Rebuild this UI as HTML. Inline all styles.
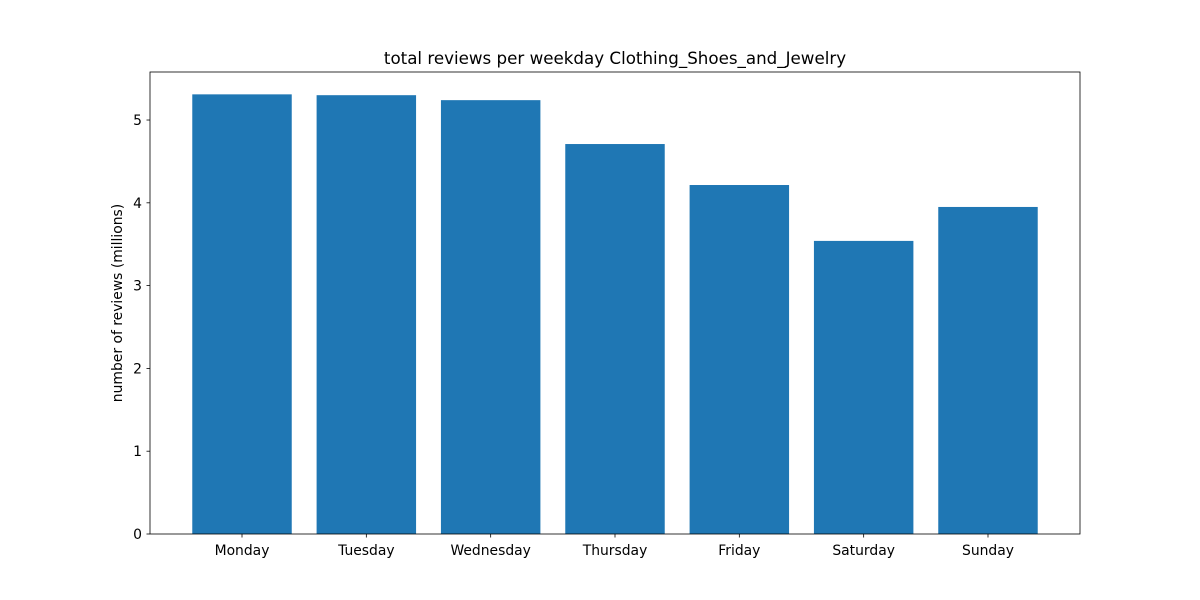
<!DOCTYPE html>
<html><head><meta charset="utf-8"><style>
body{margin:0;background:#fff;}
svg{display:block;font-family:"DejaVu Sans","Liberation Sans",sans-serif;}
</style></head><body>
<svg id="chart" width="1200" height="600"></svg>
<script>
const categories=["Monday","Tuesday","Wednesday","Thursday","Friday","Saturday","Sunday"];
const values=[5.31,5.30,5.24,4.71,4.215,3.54,3.95];
const yTicks=[0,1,2,3,4,5];
const L=150,R=1080,T=72,B=534,yMax=5.58;
const xMin=-0.74,xMax=6.74;
const sx=v=>L+(v-xMin)/(xMax-xMin)*(R-L);
const sy=v=>B-v/yMax*(B-T);
const NS="http://www.w3.org/2000/svg";
const svg=document.getElementById('chart');
function mk(tag,attrs,text){const e=document.createElementNS(NS,tag);for(const k in attrs)e.setAttribute(k,attrs[k]);if(text!==undefined)e.textContent=text;svg.appendChild(e);return e;}
categories.forEach((c,i)=>{
  const x0=sx(i-0.4),x1=sx(i+0.4);
  const r=mk('rect',{x:x0,y:sy(values[i]),width:x1-x0,height:B-sy(values[i]),fill:'#1f77b4'});
  
  
  const tk=mk('line',{x1:sx(i),x2:sx(i),y1:B,y2:B+3.5,stroke:'#000','stroke-width':0.8});
  
  
  const t=mk('text',{x:sx(i),y:B+21,'text-anchor':'middle','font-size':13.9},c);
  
  
});
yTicks.forEach(v=>{
  const tk=mk('line',{x1:L-3.5,x2:L,y1:sy(v),y2:sy(v),stroke:'#000','stroke-width':0.8});
  
  
  const t=mk('text',{x:L-8,y:sy(v)+5,'text-anchor':'end','font-size':13.9},v);
  
  
});
const fr=mk('rect',{x:L,y:T,width:R-L,height:B-T,fill:'none',stroke:'#000','stroke-width':0.8});


const ti=mk('text',{x:(L+R)/2,y:64,'text-anchor':'middle','font-size':16.7},'total reviews per weekday Clothing_Shoes_and_Jewelry');


const yl=mk('text',{x:0,y:0,'text-anchor':'middle','font-size':13.9,transform:'translate(122,303) rotate(-90)'},'number of reviews (millions)');


</script>
</body></html>
